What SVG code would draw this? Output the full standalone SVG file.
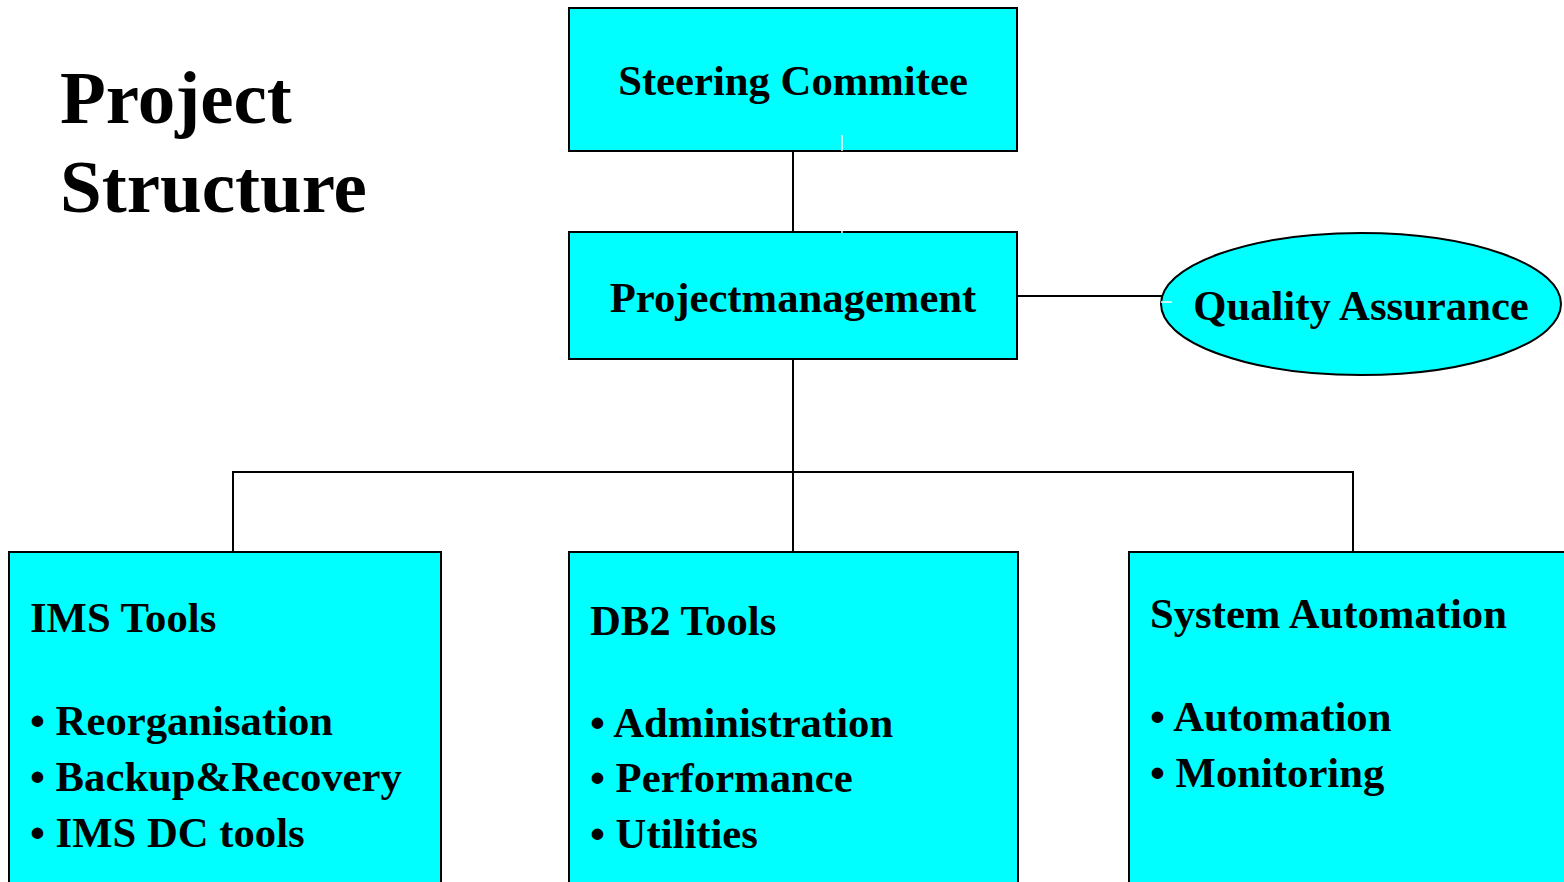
<svg xmlns="http://www.w3.org/2000/svg" width="1564" height="882" viewBox="0 0 1564 882">
<style>
.box{fill:#00FFFF;stroke:#000;stroke-width:2}
.t{font-family:"Liberation Serif","Times New Roman",serif;font-weight:bold;font-size:42.7px;fill:#000}
.title{font-family:"Liberation Serif","Times New Roman",serif;font-weight:bold;font-size:75px;fill:#000}
.c{text-anchor:middle}
.ln{stroke:#000;stroke-width:2;fill:none}
.wt{stroke:#fff;stroke-width:1.5;fill:none}
</style>
<rect width="1564" height="882" fill="#fff"/>
<g id="title">
<text class="title" x="60" y="123">Project</text>
<text class="title" x="60" y="212">Structure</text>
</g>
<g id="connectors">
<line class="ln" x1="793" y1="151" x2="793" y2="232"/>
<line class="ln" x1="793" y1="359" x2="793" y2="552"/>
<line class="ln" x1="1017" y1="296" x2="1162" y2="296"/>
<polyline class="ln" points="233,552 233,472 1353,472 1353,552"/>
</g>
<g id="steering">
<rect class="box" x="569" y="8" width="448" height="143"/>
<text class="t c" x="793" y="95">Steering Commitee</text>
</g>
<g id="projectmanagement">
<rect class="box" x="569" y="232" width="448" height="127"/>
<text class="t c" x="793" y="312">Projectmanagement</text>
</g>
<g id="quality">
<ellipse class="box" cx="1361" cy="304" rx="200" ry="71"/>
<text class="t c" x="1361" y="320">Quality Assurance</text>
</g>
<g id="ims">
<rect class="box" x="9" y="552" width="432" height="340"/>
<text class="t" x="30" y="632">IMS Tools</text>
<text class="t" x="30" y="735">• Reorganisation</text>
<text class="t" x="30" y="791">• Backup&amp;Recovery</text>
<text class="t" x="30" y="847">• IMS DC tools</text>
</g>
<g id="db2">
<rect class="box" x="569" y="552" width="449" height="340"/>
<text class="t" x="590" y="635">DB2 Tools</text>
<text class="t" x="590" y="737">• Administration</text>
<text class="t" x="590" y="792">• Performance</text>
<text class="t" x="590" y="848">• Utilities</text>
</g>
<g id="sysauto">
<rect class="box" x="1129" y="552" width="445" height="340"/>
<text class="t" x="1150" y="628">System Automation</text>
<text class="t" x="1150" y="731">• Automation</text>
<text class="t" x="1150" y="787">• Monitoring</text>
</g>
<g id="ticks">
<line class="wt" x1="842" y1="135" x2="842" y2="151"/>
<line class="wt" x1="842" y1="229" x2="842" y2="233"/>
<line class="wt" x1="1161" y1="302" x2="1172" y2="302"/>
</g>
</svg>
